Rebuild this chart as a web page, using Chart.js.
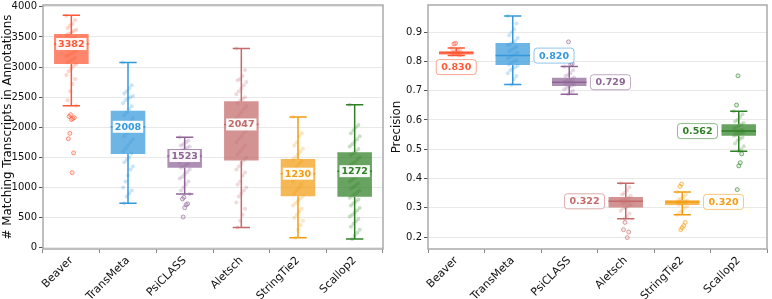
<!DOCTYPE html>
<html lang="en">
<head>
<meta charset="UTF-8">
<title>Matching transcripts and precision</title>
<script src="https://cdn.jsdelivr.net/npm/chart.js"></script>
<style>
  body { margin: 0; background: #fff; }
  #wrap { position: relative; width: 772px; height: 299px; }
  canvas { position: absolute; top: 0; }
</style>
</head>
<body>
<div id="wrap">
  <canvas id="countChart" width="388" height="299" style="left:0"></canvas>
  <canvas id="precChart" width="386" height="299" style="left:386px"></canvas>
</div>
<script>
const tools = ['Beaver', 'TransMeta', 'PsiCLASS', 'Aletsch', 'StringTie2', 'Scallop2'];
const toolColors = ['#FF5733', '#3498DB', '#8E6496', '#C46A6A', '#F39C12', '#2F8024'];

// left panel: # matching transcripts in annotations
const countTicks  = [0, 500, 1000, 1500, 2000, 2500, 3000, 3500, 4000];
const countLow    = [2357,  740,  893,  338,  168,  147];
const countQ1     = [3049, 1556, 1328, 1448,  854,  849];
const countMedian = [3382, 2008, 1523, 2047, 1230, 1272];
const countQ3     = [3549, 2275, 1638, 2433, 1475, 1584];
const countHigh   = [3859, 3075, 1834, 3310, 2172, 2373];
const countPoints = [
  [3850, 3780, 3720, 3690, 3650, 3620, 3600, 3570, 3550, 3530, 3500, 3480, 3460, 3440, 3420, 3400, 3390, 3380, 3370, 3350, 3330, 3310, 3290, 3270, 3250, 3230, 3200, 3180, 3150, 3120, 3100, 3080, 3050, 3020, 2980, 2930, 2870, 2800, 2720, 2600, 2450, 2360],
  [3075, 2700, 2650, 2600, 2560, 2520, 2500, 2480, 2450, 2400, 2350, 2300, 2250, 2200, 2150, 2100, 2060, 2020, 2000, 1980, 1950, 1900, 1850, 1800, 1750, 1700, 1650, 1600, 1560, 1500, 1460, 1420, 1350, 1300, 1200, 1100, 1000, 950, 900, 850, 740],
  [1834, 1780, 1750, 1720, 1700, 1680, 1660, 1640, 1620, 1600, 1580, 1560, 1540, 1523, 1510, 1490, 1470, 1450, 1420, 1400, 1380, 1350, 1330, 1300, 1260, 1220, 1180, 1150, 1100, 1050, 1000, 950, 893],
  [3310, 2950, 2850, 2800, 2780, 2750, 2700, 2650, 2600, 2550, 2500, 2470, 2440, 2400, 2350, 2300, 2250, 2200, 2150, 2100, 2060, 2040, 2000, 1950, 1900, 1850, 1800, 1750, 1700, 1650, 1600, 1550, 1500, 1450, 1400, 1350, 1300, 1250, 1200, 1100, 1050, 1000, 950, 900, 850, 750, 650, 550, 450, 338],
  [2172, 1900, 1850, 1750, 1700, 1650, 1600, 1550, 1500, 1470, 1440, 1400, 1350, 1300, 1260, 1230, 1200, 1150, 1100, 1050, 1000, 950, 900, 860, 820, 780, 740, 700, 650, 600, 550, 500, 450, 380, 300, 168],
  [2373, 2040, 2000, 1950, 1900, 1850, 1800, 1760, 1720, 1680, 1640, 1600, 1570, 1540, 1500, 1460, 1420, 1390, 1360, 1330, 1300, 1272, 1250, 1220, 1190, 1160, 1130, 1100, 1070, 1040, 1010, 980, 950, 920, 890, 860, 830, 800, 770, 740, 700, 660, 620, 580, 550, 520, 480, 440, 400, 350, 300, 250, 200, 147]
];
const countOutliers = [
  [2210, 2180, 2160, 2145, 2130, 1900, 1810, 1575, 1246],
  [],
  [838, 811, 730, 714, 665, 511],
  [],
  [],
  []
];

// right panel: precision
const precTicks  = [0.2, 0.3, 0.4, 0.5, 0.6, 0.7, 0.8, 0.9];
const precLow    = [0.820, 0.721, 0.688, 0.262, 0.276, 0.493];
const precQ1     = [0.824, 0.788, 0.716, 0.301, 0.309, 0.546];
const precMedian = [0.830, 0.820, 0.729, 0.322, 0.320, 0.562];
const precQ3     = [0.835, 0.863, 0.744, 0.337, 0.326, 0.585];
const precHigh   = [0.846, 0.955, 0.783, 0.384, 0.354, 0.630];
const precPoints = [
  [0.846, 0.842, 0.838, 0.836, 0.834, 0.832, 0.831, 0.830, 0.829, 0.828, 0.827, 0.826, 0.825, 0.824, 0.822, 0.820],
  [0.955, 0.93, 0.91, 0.90, 0.89, 0.88, 0.87, 0.865, 0.86, 0.855, 0.85, 0.845, 0.84, 0.835, 0.83, 0.825, 0.82, 0.815, 0.81, 0.805, 0.80, 0.795, 0.79, 0.785, 0.78, 0.775, 0.77, 0.76, 0.75, 0.74, 0.721],
  [0.783, 0.77, 0.76, 0.755, 0.75, 0.745, 0.74, 0.737, 0.734, 0.731, 0.729, 0.727, 0.725, 0.722, 0.72, 0.717, 0.714, 0.71, 0.705, 0.70, 0.695, 0.688],
  [0.384, 0.37, 0.36, 0.35, 0.345, 0.34, 0.335, 0.33, 0.327, 0.324, 0.322, 0.32, 0.317, 0.314, 0.31, 0.306, 0.302, 0.298, 0.29, 0.28, 0.27, 0.262],
  [0.354, 0.345, 0.338, 0.332, 0.328, 0.325, 0.323, 0.321, 0.32, 0.319, 0.317, 0.315, 0.313, 0.31, 0.305, 0.30, 0.29, 0.285, 0.276],
  [0.63, 0.62, 0.61, 0.60, 0.595, 0.59, 0.585, 0.58, 0.575, 0.57, 0.567, 0.564, 0.562, 0.56, 0.558, 0.555, 0.552, 0.549, 0.546, 0.54, 0.535, 0.53, 0.52, 0.51, 0.50, 0.493]
];
const precOutliers = [
  [0.862, 0.860],
  [],
  [0.867, 0.818, 0.792, 0.790],
  [0.250, 0.225, 0.217, 0.198],
  [0.381, 0.373, 0.250, 0.239, 0.232, 0.225],
  [0.751, 0.651, 0.484, 0.454, 0.443, 0.362]
];

// where the precision median labels sit
const precLabelSide = ['below', 'right', 'right', 'left', 'right', 'left'];

Chart.defaults.font.family = '"DejaVu Sans", sans-serif';
Chart.defaults.color = '#111';

function alpha(hex, a) {
  const n = parseInt(hex.slice(1), 16);
  return `rgba(${n >> 16}, ${(n >> 8) & 255}, ${n & 255}, ${a})`;
}

// small fixed horizontal spread for the strip points
const jitter = j => (((j * 7) % 9) - 4) * 0.022;

function buildDatasets(q1, q3, points, outliers) {
  const sets = [{
    type: 'bar',
    order: 5,
    data: tools.map((t, i) => ({ x: i, y: [q1[i], q3[i]] })),
    backgroundColor: toolColors.map(c => alpha(c, 0.72)),
    borderWidth: 0,
    categoryPercentage: 1,
    barPercentage: 0.61
  }];
  tools.forEach((t, i) => {
    sets.push({
      type: 'scatter',
      order: 1,
      data: points[i].map((v, j) => ({ x: i + jitter(j), y: v })),
      backgroundColor: alpha(toolColors[i], 0.25),
      borderWidth: 0,
      pointRadius: 2
    });
    sets.push({
      type: 'scatter',
      order: 1,
      data: outliers[i].map((v, j) => ({ x: i + jitter(j + 3) * 0.6, y: v })),
      backgroundColor: alpha(toolColors[i], 0.15),
      borderColor: alpha(toolColors[i], 0.6),
      borderWidth: 1,
      pointRadius: 2
    });
  });
  return sets;
}

function drawLabel(ctx, text, cx, cy, color, boxed) {
  ctx.font = 'bold 9.5px "DejaVu Sans"';
  const tw = ctx.measureText(text).width;
  const w = tw + (boxed ? 10 : 4);
  const h = boxed ? 15 : 12;
  ctx.beginPath();
  if (boxed) ctx.roundRect(cx - w / 2, cy - h / 2, w, h, 3);
  else ctx.rect(cx - w / 2, cy - h / 2, w, h);
  ctx.fillStyle = 'rgba(255,255,255,0.95)';
  ctx.fill();
  if (boxed) {
    ctx.strokeStyle = alpha(color, 0.55);
    ctx.lineWidth = 1;
    ctx.stroke();
  }
  ctx.fillStyle = color;
  ctx.textAlign = 'center';
  ctx.textBaseline = 'middle';
  ctx.fillText(text, cx, cy + 0.5);
}

function boxPlugin(stats, mode) {
  return {
    id: 'boxes',
    beforeDatasetsDraw(chart) {
      const { ctx, scales: { x, y } } = chart;
      const bars = chart.getDatasetMeta(0).data;
      ctx.save();
      ctx.lineWidth = 1.5;
      tools.forEach((t, i) => {
        const cx = x.getPixelForValue(i);
        const cap = bars[i].width / 4;
        const yHigh = y.getPixelForValue(stats.high[i]);
        const yLow = y.getPixelForValue(stats.low[i]);
        ctx.strokeStyle = toolColors[i];
        ctx.beginPath();
        ctx.moveTo(cx, y.getPixelForValue(stats.q3[i]));
        ctx.lineTo(cx, yHigh);
        ctx.moveTo(cx, y.getPixelForValue(stats.q1[i]));
        ctx.lineTo(cx, yLow);
        ctx.moveTo(cx - cap, yHigh);
        ctx.lineTo(cx + cap, yHigh);
        ctx.moveTo(cx - cap, yLow);
        ctx.lineTo(cx + cap, yLow);
        ctx.stroke();
      });
      ctx.restore();
    },
    afterDatasetsDraw(chart) {
      const { ctx, chartArea: a, scales: { x, y } } = chart;
      const bars = chart.getDatasetMeta(0).data;
      ctx.save();
      tools.forEach((t, i) => {
        const cx = x.getPixelForValue(i);
        const half = bars[i].width / 2;
        const ym = y.getPixelForValue(stats.median[i]);
        ctx.strokeStyle = toolColors[i];
        ctx.lineWidth = 1.5;
        ctx.beginPath();
        ctx.moveTo(cx - half, ym);
        ctx.lineTo(cx + half, ym);
        ctx.stroke();
        if (mode === 'count') {
          drawLabel(ctx, String(stats.median[i]), cx, ym, toolColors[i], false);
        } else {
          const text = stats.median[i].toFixed(3);
          ctx.font = 'bold 9.5px "DejaVu Sans"';
          const w = ctx.measureText(text).width + 10;
          const side = precLabelSide[i];
          let lx = cx, ly = ym;
          if (side === 'right') lx = cx + half + 4 + w / 2;
          else if (side === 'left') lx = cx - half - 4 - w / 2;
          else ly = y.getPixelForValue(stats.low[i]) + 4 + 7.5;
          drawLabel(ctx, text, lx, ly, toolColors[i], true);
        }
      });
      ctx.strokeStyle = '#aaaaaa';
      ctx.lineWidth = 1.5;
      ctx.strokeRect(a.left, a.top, a.right - a.left, a.bottom - a.top);
      ctx.restore();
    }
  };
}

function makeChart(id, stats, mode, yOpts, yTicks, yTitle, yWidth, padRight, titlePad) {
  new Chart(document.getElementById(id), {
    type: 'bar',
    data: { datasets: buildDatasets(stats.q1, stats.q3, stats.points, stats.outliers) },
    options: {
      responsive: false,
      animation: false,
      devicePixelRatio: 1,
      layout: { padding: { top: 1, right: padRight, left: 0, bottom: 0 } },
      plugins: { legend: { display: false }, tooltip: { enabled: false } },
      scales: {
        x: {
          type: 'linear',
          min: -0.5,
          max: 5.5,
          offset: false,
          afterBuildTicks: sc => { sc.ticks = tools.map((t, i) => ({ value: i })); },
          ticks: {
            callback: v => tools[v],
            minRotation: 45,
            maxRotation: 45,
            autoSkip: false,
            font: { size: 11 },
            color: '#111',
            padding: 1
          },
          grid: { drawOnChartArea: false, tickLength: 4, tickColor: '#888' },
          border: { display: false },
          afterFit: sc => { sc.height = 50; sc.paddingLeft = 0; sc.paddingRight = 0; }
        },
        y: Object.assign({
          afterBuildTicks: sc => { sc.ticks = yTicks.map(v => ({ value: v })); },
          grid: { color: '#e8e8e8', tickColor: '#555', tickLength: 4 },
          border: { display: false },
          title: { display: true, text: yTitle, font: { size: 11.8 }, color: '#111', padding: titlePad },
          afterFit: sc => { sc.width = yWidth; sc.paddingTop = 0; sc.paddingBottom = 0; }
        }, yOpts)
      }
    },
    plugins: [boxPlugin(stats, mode)]
  });
}

makeChart('countChart', {
  low: countLow, q1: countQ1, median: countMedian, q3: countQ3, high: countHigh,
  points: countPoints, outliers: countOutliers
}, 'count', {
  min: -20,
  max: 4030,
  ticks: { autoSkip: false, callback: v => String(v), font: { size: 10 }, color: '#111', padding: 2 }
}, countTicks, '# Matching Transcripts in Annotations', 43, 2, 1);

makeChart('precChart', {
  low: precLow, q1: precQ1, median: precMedian, q3: precQ3, high: precHigh,
  points: precPoints, outliers: precOutliers
}, 'prec', {
  min: 0.159,
  max: 0.993,
  ticks: { autoSkip: false, callback: v => v.toFixed(1), font: { size: 10 }, color: '#111', padding: 2 }
}, precTicks, 'Precision', 42, 1, 4);
</script>
</body>
</html>
